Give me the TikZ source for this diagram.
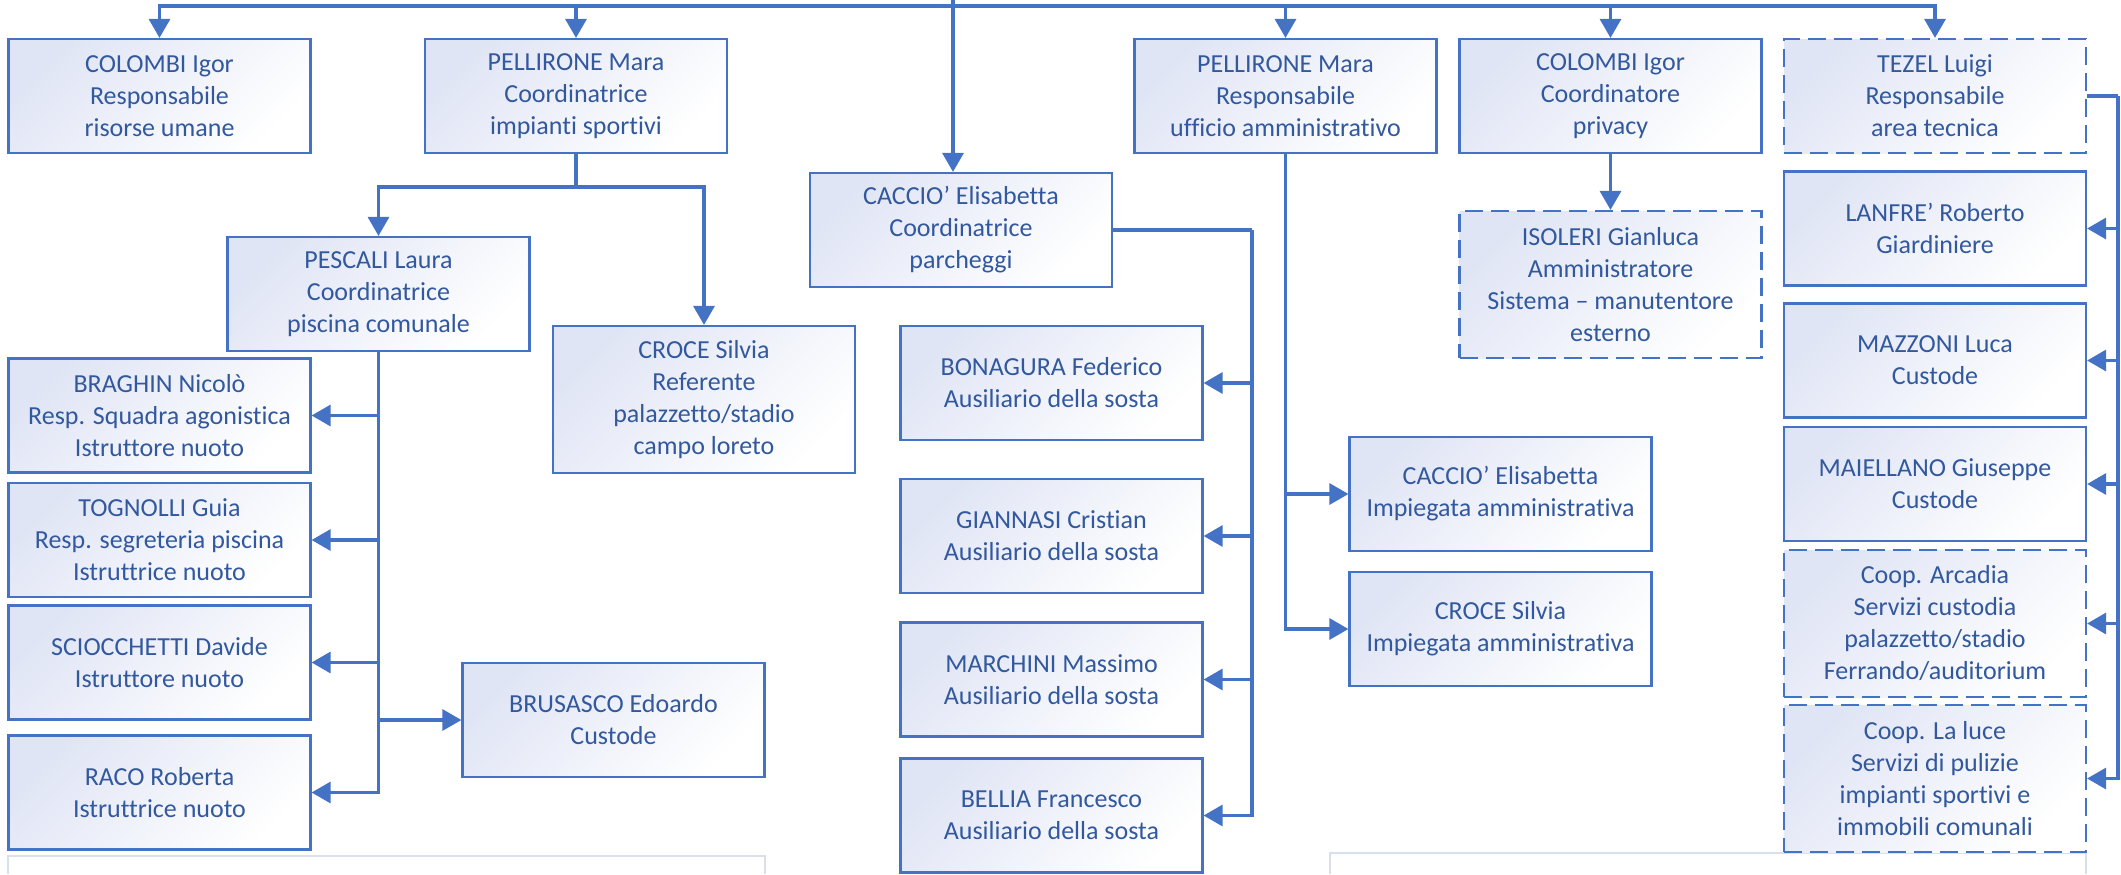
\documentclass[tikz,border=0pt]{standalone}
\usepackage{fontspec}
\setmainfont[Ligatures=NoCommon]{Carlito}
\usetikzlibrary{arrows.meta}
\definecolor{orgline}{RGB}{68,114,196}
\definecolor{orgtext}{RGB}{50,88,158}
\definecolor{orgfill}{RGB}{224,229,245}
\definecolor{orgfaint}{RGB}{218,223,236}
\begin{document}
\begin{tikzpicture}[x=0.5pt,y=-0.5pt,
    role/.style={draw=orgline,line width=1.1pt,top color=orgfill,bottom color=white,shading angle=45,
      text=orgtext,align=center,font=\fontsize{13}{16}\selectfont,
      minimum width=151pt,minimum height=57pt,inner sep=2pt},
    tallrole/.style={role,minimum height=73.5pt},
    outsourced/.style={dash pattern=on 9pt off 4pt},
    link/.style={draw=orgline,line width=1.6pt},
    arr/.style={link,-{Triangle[length=9.5pt,width=10.5pt]}}]
    \useasboundingbox (0,0) rectangle (2121,874);
    \draw[orgfaint,line width=1pt] (8,874) -- (8,856) -- (765,856) -- (765,874);
    \draw[orgfaint,line width=1pt] (1330,874) -- (1330,853) -- (2086,853) -- (2086,874);
    \node[role] (colI) at (159.5,96) {COLOMBI Igor\\Responsabile\\risorse umane};
    \node[role] (pelC) at (576,96) {PELLIRONE Mara\\Coordinatrice\\impianti sportivi};
    \node[role] (cac) at (961,230) {CACCIO’ Elisabetta\\Coordinatrice\\parcheggi};
    \node[role] (pelR) at (1285.5,96) {PELLIRONE Mara\\Responsabile\\ufficio amministrativo};
    \node[role] (colP) at (1610.5,96) {COLOMBI Igor\\Coordinatore\\privacy};
    \node[role,outsourced] (tezel) at (1935,96) {TEZEL Luigi\\Responsabile\\area tecnica};
    \node[role] (pescali) at (378.5,294) {PESCALI Laura\\Coordinatrice\\piscina comunale};
    \node[tallrole] (croceR) at (704,399.5) {CROCE Silvia\\Referente\\palazzetto/stadio\\campo loreto};
    \node[role] (braghin) at (159.5,415.5) {BRAGHIN Nicolò\\Resp. Squadra agonistica\\Istruttore nuoto};
    \node[role] (tognolli) at (159.5,540) {TOGNOLLI Guia\\Resp. segreteria piscina\\Istruttrice nuoto};
    \node[role] (sciocchetti) at (159.5,662.5) {SCIOCCHETTI Davide\\Istruttore nuoto};
    \node[role] (raco) at (159.5,792.5) {RACO Roberta\\Istruttrice nuoto};
    \node[role] (brusasco) at (613.5,720) {BRUSASCO Edoardo\\Custode};
    \node[role] (bonagura) at (1051.5,383) {BONAGURA Federico\\Ausiliario della sosta};
    \node[role] (giannasi) at (1051.5,536) {GIANNASI Cristian\\Ausiliario della sosta};
    \node[role] (marchini) at (1051.5,679.5) {MARCHINI Massimo\\Ausiliario della sosta};
    \node[role] (bellia) at (1051.5,815.5) {BELLIA Francesco\\Ausiliario della sosta};
    \node[tallrole,outsourced] (isoleri) at (1610.5,284.5) {ISOLERI Gianluca\\Amministratore\\Sistema – manutentore\\esterno};
    \node[role] (cacI) at (1500.5,494) {CACCIO’ Elisabetta\\Impiegata amministrativa};
    \node[role] (croceI) at (1500.5,629) {CROCE Silvia\\Impiegata amministrativa};
    \node[role] (lanfre) at (1935,228.5) {LANFRE’ Roberto\\Giardiniere};
    \node[role] (mazzoni) at (1935,360.5) {MAZZONI Luca\\Custode};
    \node[role] (maiellano) at (1935,484) {MAIELLANO Giuseppe\\Custode};
    \node[tallrole,outsourced] (arcadia) at (1935,623.5) {Coop. Arcadia\\Servizi custodia\\palazzetto/stadio\\Ferrando/auditorium};
    \node[tallrole,outsourced] (laluce) at (1935,778.5) {Coop. La luce\\Servizi di pulizie\\impianti sportivi e\\immobili comunali};
    \coordinate (root) at (953,0);
    \coordinate (bus) at (953,6);
    \draw[arr] (root) -- (root |- cac.north);
    \foreach \n in {colI,pelC,pelR,colP,tezel}
        \draw[arr] (bus) -| (\n.north);
    \coordinate (pelCfork) at (576,187);
    \draw[link] (pelC.south) -- (pelCfork);
    \draw[arr] (pelCfork) -| (pescali.north);
    \draw[arr] (pelCfork) -| (croceR.north);
    \foreach \n in {braghin,tognolli,sciocchetti,raco}
        \draw[arr] (pescali.south) |- (\n.east);
    \draw[arr] (pescali.south) |- (brusasco.west);
    \coordinate (cacfork) at (1252,230);
    \draw[link] (cac.east) -- (cacfork);
    \foreach \n in {bonagura,giannasi,marchini,bellia}
        \draw[arr] (cacfork) |- (\n.east);
    \foreach \n in {cacI,croceI}
        \draw[arr] (pelR.south) |- (\n.west);
    \draw[arr] (colP) -- (isoleri);
    \coordinate (tezfork) at (2118,96);
    \draw[link] (tezel.east) -- (tezfork);
    \foreach \n in {lanfre,mazzoni,maiellano,arcadia,laluce}
        \draw[arr] (tezfork) |- (\n.east);
\end{tikzpicture}
\end{document}
